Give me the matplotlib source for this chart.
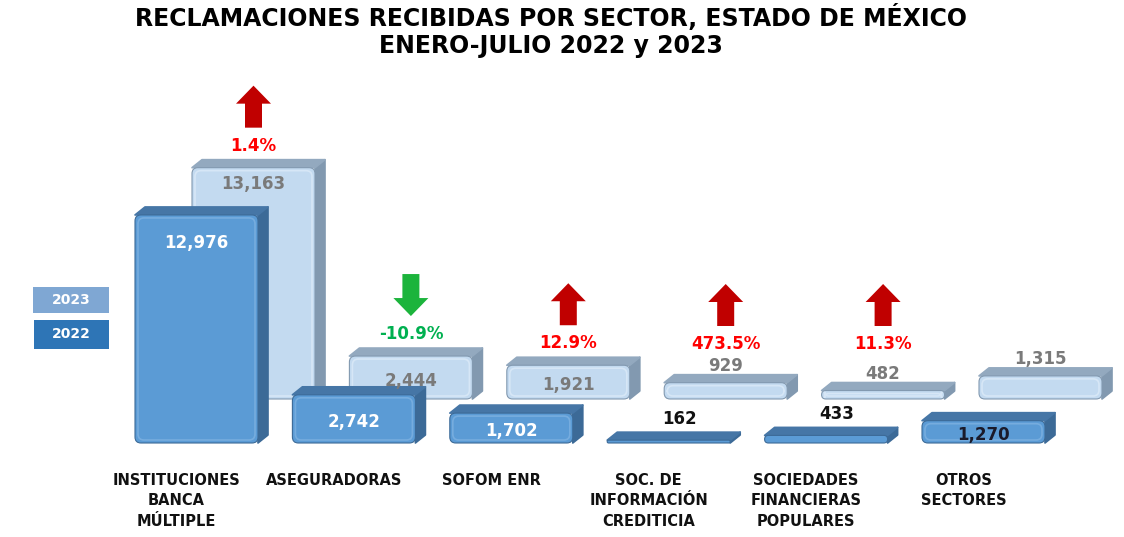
import matplotlib
matplotlib.use("Agg")
import matplotlib.pyplot as plt
from matplotlib.patches import Polygon, FancyBboxPatch, Rectangle

# ---------------- data ----------------
categories = ["INSTITUCIONES\nBANCA\nMÚLTIPLE", "ASEGURADORAS", "SOFOM ENR",
              "SOC. DE\nINFORMACIÓN\nCREDITICIA", "SOCIEDADES\nFINANCIERAS\nPOPULARES",
              "OTROS\nSECTORES"]
values_2022 = [12976, 2742, 1702, 162, 433, 1270]
values_2023 = [13163, 2444, 1921, 929, 482, 1315]
series_names = ["2022", "2023"]
title_lines = ["RECLAMACIONES RECIBIDAS POR SECTOR, ESTADO DE MÉXICO",
               "ENERO-JULIO 2022 y 2023"]
label_inside_2022 = [True, True, True, False, False, True]
label_inside_2023 = [True, True, True, False, False, False]
label_color_2022 = ["white", "white", "white", "#111111", "#111111", "#1a1a2a"]
show_change = [True, True, True, True, True, False]

# ---------------- layout ----------------
W, H = 1124, 537
FONT = "DejaVu Sans"
fig = plt.figure(figsize=(W / 100, H / 100), dpi=100)
ax = fig.add_axes([0, 0, 1, 1])
ax.axis("off")

X0_PX, STEP_PX, BASE_PX, VPP = 196.5, 157.4, 443, 56.9
ax.set_xlim(-X0_PX / STEP_PX, (W - X0_PX) / STEP_PX)
ax.set_ylim(-(H - BASE_PX) * VPP, BASE_PX * VPP)
xdpp = 1.0 / STEP_PX      # x data units per pixel
ydpp = VPP                # y data units per pixel
aspect = ydpp / xdpp

BAR_W = 123 * xdpp
DDX, DDY = 10 * xdpp, 8 * ydpp
BACK_DX, BACK_DY = 57 * xdpp, 44 * ydpp

front_style = dict(front="#5b9bd5", top="#4676a6", side="#3c6a97", hl="#8dbbe6")
back_style = dict(front="#c3daf0", top="#93a9bf", side="#8299b0", hl="#e6f1fb")


def draw_bar(xc, base, v, st, z):
    x0, x1 = xc - BAR_W / 2, xc + BAR_W / 2
    y0, y1 = base, base + v
    side = Polygon([(x1, y0), (x1 + DDX, y0 + DDY), (x1 + DDX, y1 + DDY), (x1, y1)],
                   closed=True, fc=st["side"], ec=st["side"], lw=1.2, joinstyle="round", zorder=z)
    top = Polygon([(x0, y1), (x1, y1), (x1 + DDX, y1 + DDY), (x0 + DDX, y1 + DDY)],
                  closed=True, fc=st["top"], ec=st["top"], lw=1.2, joinstyle="round", zorder=z)
    r = min(6 * xdpp, v / (2 * aspect))
    front = FancyBboxPatch((x0, y0), BAR_W, v,
                           boxstyle=f"round,pad=0,rounding_size={r}",
                           mutation_aspect=aspect, fc=st["front"], ec=st["side"],
                           lw=0.8, zorder=z + 0.1)
    ax.add_patch(side)
    ax.add_patch(top)
    ax.add_patch(front)
    if v > 8 * ydpp:
        ins = 3
        hl = FancyBboxPatch((x0 + ins * xdpp, y0 + ins * ydpp), BAR_W - 2 * ins * xdpp,
                            v - 2 * ins * ydpp,
                            boxstyle=f"round,pad=0,rounding_size={r}",
                            mutation_aspect=aspect, fc="none", ec=st["hl"],
                            lw=1.2, alpha=0.55, zorder=z + 0.2)
        ax.add_patch(hl)


n = len(categories)
# back series (2023)
for i, v in enumerate(values_2023):
    draw_bar(i + BACK_DX, BACK_DY, v, back_style, 2 + i * 0.01)
# front series (2022)
for i, v in enumerate(values_2022):
    draw_bar(i, 0, v, front_style, 4 + i * 0.01)

# value labels 2022
for i, v in enumerate(values_2022):
    txt = f"{v:,}"
    if label_inside_2022[i]:
        if v > 6000:
            y = v - 28 * ydpp
        else:
            y = v / 2 - 3 * ydpp
    else:
        y = v + DDY + 13 * ydpp
    ax.text(i + 0.07 * (not label_inside_2022[i]), y, txt, ha="center", va="center",
            fontsize=12, fontweight="bold", color=label_color_2022[i],
            family=FONT, zorder=10)

# value labels 2023
for i, v in enumerate(values_2023):
    txt = f"{v:,}"
    if label_inside_2023[i]:
        if v > 6000:
            y = BACK_DY + v - 16 * ydpp
        else:
            y = BACK_DY + v / 2 - 3 * ydpp
    else:
        y = BACK_DY + v + DDY + 9 * ydpp
    ax.text(i + BACK_DX, y, txt, ha="center", va="center", fontsize=12,
            fontweight="bold", color="#7a7a7a", family=FONT, zorder=10)

# change labels + arrows
for i in range(n):
    if not show_change[i]:
        continue
    v22, v23 = values_2022[i], values_2023[i]
    pct = (v23 - v22) / v22 * 100
    up = pct >= 0
    xc = i + BACK_DX
    y = max(BACK_DY + v23 + 22 * ydpp, BACK_DY + 55 * ydpp)
    tcol = "#ff0000" if up else "#00b050"
    acol = "#c00000" if up else "#1cb43c"
    ax.text(xc, y, f"{pct:.1f}%", ha="center", va="center", fontsize=12,
            fontweight="bold", color=tcol, family=FONT, zorder=10)
    b, h, hh, hw, sw = 18, 42, 18, 17.5, 8.5
    if up:
        pts = [(-sw, b), (sw, b), (sw, b + h - hh), (hw, b + h - hh), (0, b + h),
               (-hw, b + h - hh), (-sw, b + h - hh)]
    else:
        pts = [(-sw, b + h), (sw, b + h), (sw, b + hh), (hw, b + hh), (0, b),
               (-hw, b + hh), (-sw, b + hh)]
    poly = [(xc + px * xdpp, y + py * ydpp) for px, py in pts]
    ax.add_patch(Polygon(poly, closed=True, fc=acol, ec="none", zorder=10))

# category labels
for i, c in enumerate(categories):
    ax.text(i - 20 * xdpp, -30 * ydpp, c, ha="center", va="top", fontsize=10.5,
            fontweight="bold", color="#111111", family=FONT, linespacing=1.45)

# legend boxes
leg = [("2023", "#7fa7d3", (33, 287, 109, 313)), ("2022", "#2e75b6", (34, 320, 109, 349))]
for name, col, (l, t, r_, b_) in leg:
    fig.patches.append(Rectangle((l / W, 1 - b_ / H), (r_ - l) / W, (b_ - t) / H,
                                 transform=fig.transFigure, fc=col, ec="none"))
    fig.text((l + r_) / 2 / W, 1 - (t + b_) / 2 / H, name, ha="center", va="center",
             fontsize=10, fontweight="bold", color="white", family=FONT)

# title
fig.text(551 / W, 1 - 17 / H, title_lines[0], ha="center", va="center",
         fontsize=17, fontweight="bold", color="black", family=FONT)
fig.text(551 / W, 1 - 46 / H, title_lines[1], ha="center", va="center",
         fontsize=17, fontweight="bold", color="black", family=FONT)

fig.savefig("out.png", dpi=100)
